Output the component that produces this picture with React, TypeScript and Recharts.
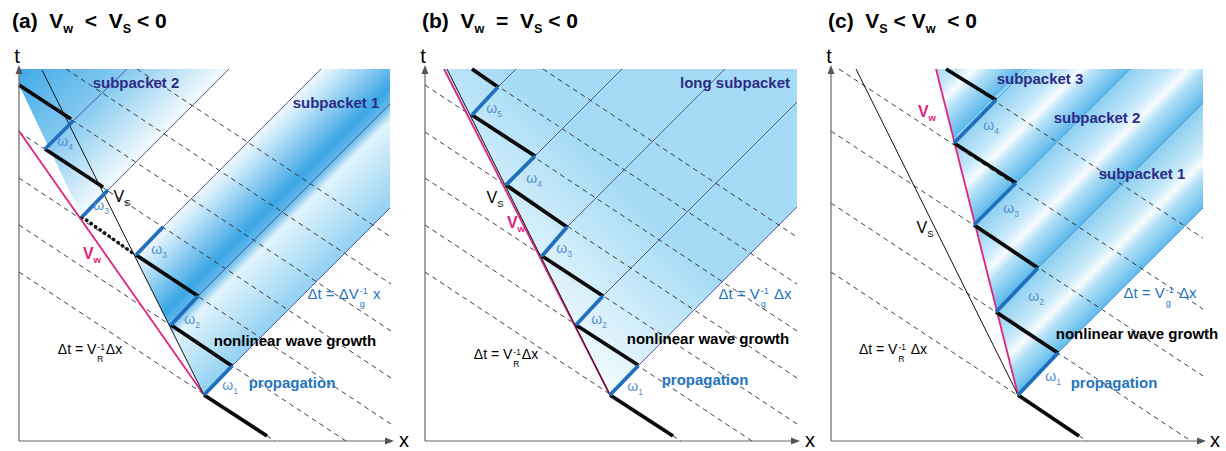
import React from "react"
import { ComposedChart, Line, Area, Scatter, XAxis, YAxis } from "recharts"

// every value is [x, t] measured from the axis corner of its panel
type Seg = [number, number, number, number]
type Pt = [number, number]

// (a) V_w < V_S < 0
const A_VS: Seg = [23, 371, 185, 46]
const A_VW: Seg = [0, 310, 185, 46]
const A_BLACK: Seg[] = [[0, 356, 52, 322], [26, 292, 84, 254], [117, 186, 179, 145], [152, 116, 213, 75], [185, 46, 248, 5]]
const A_DOTTED: Seg[] = [[63, 224, 115, 187]]
const A_OMEGA: Seg[] = [[185, 46, 213, 75], [152, 116, 179, 145], [117, 186, 144, 214], [63, 224, 89, 251], [26, 292, 54, 320]]
const A_VG: Seg[] = [[54, 320, 108, 372], [89, 251, 210, 372], [144, 214, 302, 372], [179, 145, 371, 337], [213, 75, 371, 233]]
const A_DASHED: Seg[] = [[118, 372, 372, 204], [47, 372, 372, 157], [0, 356, 372, 110], [0, 309, 372, 63], [0, 263, 372, 17], [0, 216, 327, 0], [0, 169, 256, 0]]
const A_PACKET_1: Pt[] = [[115, 186], [144, 214], [302, 372], [371, 372], [371, 233], [213, 75], [185, 46], [115, 186]]
const A_PACKET_2: Pt[] = [[0, 372], [210, 372], [89, 251], [63, 224], [0, 356], [0, 372]]

// (b) V_w = V_S < 0
const B_VS: Seg = [22, 372, 185, 46]
const B_VW: Seg = [19, 372, 185, 46]
const B_BLACK: Seg[] = [[47, 372, 73, 354], [47, 326, 110, 285], [81, 256, 142, 214], [117, 185, 178, 145], [151, 116, 213, 76], [185, 46, 248, 5]]
const B_OMEGA: Seg[] = [[47, 326, 73, 354], [81, 256, 110, 285], [117, 185, 142, 214], [151, 116, 178, 145], [185, 46, 213, 75]]
const B_VG: Seg[] = [[73, 354, 91, 372], [110, 285, 197, 372], [142, 214, 300, 372], [178, 145, 372, 339], [213, 75, 372, 234]]
const B_DASHED: Seg[] = A_DASHED
const B_PACKET: Pt[] = [[19, 372], [372, 372], [372, 234], [213, 75], [185, 46], [19, 372]]

// (c) V_S < V_w < 0
const C_VS: Seg = [25, 372, 187, 46]
const C_VW: Seg = [105, 372, 187, 46]
const C_BLACK: Seg[] = [[115, 372, 165, 341], [123, 298, 185, 258], [143, 216, 207, 173], [165, 129, 227, 88], [187, 46, 248, 5]]
const C_OMEGA: Seg[] = [[123, 298, 165, 341], [143, 216, 185, 258], [165, 129, 207, 173], [187, 46, 227, 88]]
const C_VG: Seg[] = [[165, 341, 196, 372], [185, 258, 299, 372], [207, 173, 372, 338], [227, 88, 372, 233]]
const C_DASHED: Seg[] = [[115, 372, 372, 203], [8, 372, 372, 132], [0, 310, 372, 65], [0, 238, 360, 0], [0, 169, 256, 0]]
const C_PACKET: Pt[] = [[105, 372], [372, 372], [372, 233], [227, 88], [187, 46], [105, 372]]

const AXIS_X: Seg = [0, 0, 373, 0]
const AXIS_T: Seg = [0, 0, 0, 374]
const ARROW_X: Pt[] = [[375, 0]]
const ARROW_T: Pt[] = [[0, 376]]

const FONT = '"Liberation Sans", Arial, Helvetica, sans-serif'
const NAVY = "#2c2b86"
const BLUE = "#2673c0"
const OMEGA_C = "#4f8fd0"
const MAGENTA = "#e2237f"

const seg = (s: Seg) => [{ x: s[0], t: s[1] }, { x: s[2], t: s[3] }]
const poly = (p: Pt[]) => p.map(([x, t]) => ({ x, t }))

interface PanelProps {
    left: number
    vs: Seg
    vw: Seg
    black: Seg[]
    dotted?: Seg[]
    omega: Seg[]
    vg: Seg[]
    vgColor: string
    dashed: Seg[]
    packets: { pts: Pt[]; fill: string }[]
    defs: React.ReactNode
}

function Panel({ left, vs, vw, black, dotted = [], omega, vg, vgColor, dashed, packets, defs }: PanelProps) {
    const line = (s: Seg, key: string, stroke: string, width: number, extra: any = {}) => (
        <Line key={key} data={seg(s)} dataKey="t" type="linear" stroke={stroke} strokeWidth={width}
            dot={false} activeDot={false} isAnimationActive={false} {...extra} />
    )
    return (
        <div style={{ position: "absolute", left, top: 0 }}>
            <ComposedChart width={410} height={451} margin={{ top: 0, right: 0, bottom: 0, left: 0 }}>
                {defs}
                <XAxis type="number" dataKey="x" domain={[-19, 391]} hide allowDataOverflow />
                <YAxis type="number" dataKey="t" domain={[-10, 441]} hide allowDataOverflow />
                {packets.map((p, i) => (
                    <Area key={`p${i}`} data={poly(p.pts)} dataKey="t" type="linear" stroke="none"
                        fill={p.fill} fillOpacity={1} baseValue={p.pts[0][1]} dot={false} activeDot={false}
                        isAnimationActive={false} />
                ))}
                {dashed.map((s, i) => line(s, `d${i}`, "#2a2a2a", 0.9, { strokeDasharray: "5 4" }))}
                {vg.map((s, i) => line(s, `g${i}`, vgColor, 0.9))}
                {line(vw, "vw", MAGENTA, 1.8)}
                {line(vs, "vs", "#111", 1)}
                {dotted.map((s, i) => line(s, `o${i}`, "#111", 3.5, { strokeDasharray: "0.5 5", strokeLinecap: "round" }))}
                {black.map((s, i) => line(s, `b${i}`, "#0a0a0a", 3.8))}
                {omega.map((s, i) => line(s, `w${i}`, "#1f6fbe", 3.8))}
                {line(AXIS_X, "ax", "#666", 1.2)}
                {line(AXIS_T, "at", "#666", 1.2)}
                <Scatter data={poly(ARROW_X)} dataKey="t" isAnimationActive={false}
                    shape={(p: any) => <path d={`M${p.cx},${p.cy} l-9,-3.5 l0,7 z`} fill="#555" />} />
                <Scatter data={poly(ARROW_T)} dataKey="t" isAnimationActive={false}
                    shape={(p: any) => <path d={`M${p.cx},${p.cy} l-3.5,9 l7,0 z`} fill="#555" />} />
            </ComposedChart>
        </div>
    )
}

function Lbl({ x, y, color = "#000", size = 15, bold = false, children }: any) {
    return (
        <div style={{
            position: "absolute", left: x, top: y, transform: "translate(-50%,-50%)", color, fontSize: size,
            fontWeight: bold ? 700 : 400, whiteSpace: "nowrap", fontFamily: FONT, lineHeight: 1,
        }}>{children}</div>
    )
}

// superscript stacked over a subscript, as in V_g^-1
function Ss({ sup, sub }: { sup: string; sub: string }) {
    return (
        <span style={{ display: "inline-flex", flexDirection: "column", fontSize: "0.6em", lineHeight: 1.45, verticalAlign: "0.55em", margin: "0 1px" }}>
            <span>{sup}</span><span>{sub}</span>
        </span>
    )
}

const Om = ({ x, y, n }: { x: number; y: number; n: number }) => (
    <Lbl x={x} y={y} color={OMEGA_C} size={14}>ω<sub style={{ fontSize: "0.6em" }}>{n}</sub></Lbl>
)

function Title({ x, children }: any) {
    return (
        <div style={{ position: "absolute", left: x, top: 8, fontSize: 21, fontWeight: 700, fontFamily: FONT, whiteSpace: "nowrap", lineHeight: "25px" }}>
            {children}
        </div>
    )
}

const sb = { fontSize: "0.6em" }

export default function App() {
    return (
        <div style={{ position: "absolute", left: 0, top: 0, width: 1226, height: 451, background: "#fff", overflow: "hidden", fontFamily: FONT }}>
            <Panel left={0} vs={A_VS} vw={A_VW} black={A_BLACK} dotted={A_DOTTED} omega={A_OMEGA} vg={A_VG}
                vgColor="#46469c" dashed={A_DASHED}
                packets={[{ pts: A_PACKET_2, fill: "url(#ga2)" }, { pts: A_PACKET_1, fill: "url(#ga1)" }]}
                defs={
                    <defs>
                        <linearGradient id="ga1" gradientUnits="userSpaceOnUse" x1={163} y1={227} x2={267} y2={331}>
                            <stop offset="0" stopColor="#f2faff" />
                            <stop offset="0.15" stopColor="#b3def7" />
                            <stop offset="0.42" stopColor="#3aa6e5" />
                            <stop offset="0.5" stopColor="#62b9ea" />
                            <stop offset="0.58" stopColor="#e2f4fc" />
                            <stop offset="1" stopColor="#92d1f3" />
                        </linearGradient>
                        <linearGradient id="ga2" gradientUnits="userSpaceOnUse" x1={19} y1={69} x2={129} y2={179}>
                            <stop offset="0" stopColor="#40aae6" />
                            <stop offset="0.48" stopColor="#84c9f0" />
                            <stop offset="1" stopColor="#ffffff" />
                        </linearGradient>
                    </defs>
                } />
            <Panel left={406} vs={B_VS} vw={B_VW} black={B_BLACK} omega={B_OMEGA} vg={B_VG}
                vgColor="#46469c" dashed={B_DASHED}
                packets={[{ pts: B_PACKET, fill: "url(#gb1)" }]}
                defs={
                    <defs>
                        <linearGradient id="gb1" gradientUnits="userSpaceOnUse" x1={204} y1={395} x2={314} y2={285}>
                            <stop offset="0" stopColor="#f3fbfe" />
                            <stop offset="1" stopColor="#a6dbf5" />
                        </linearGradient>
                    </defs>
                } />
            <Panel left={812} vs={C_VS} vw={C_VW} black={C_BLACK} omega={C_OMEGA} vg={C_VG}
                vgColor="#4a9ad8" dashed={C_DASHED}
                packets={[{ pts: C_PACKET, fill: "url(#gc1)" }]}
                defs={
                    <defs>
                        <linearGradient id="gc1" gradientUnits="userSpaceOnUse" x1={204} y1={183} x2={257.5} y2={236.5} spreadMethod="repeat">
                            <stop offset="0" stopColor="#8ccff1" />
                            <stop offset="0.4" stopColor="#c8e9fa" />
                            <stop offset="0.55" stopColor="#f7fcff" />
                            <stop offset="0.68" stopColor="#b5e1f8" />
                            <stop offset="1" stopColor="#5cb8ea" />
                        </linearGradient>
                    </defs>
                } />

            <Title x={12}>(a)&nbsp; V<sub style={sb}>w</sub>&nbsp; &lt;&nbsp; V<sub style={sb}>S</sub>&nbsp;&lt; 0</Title>
            <Title x={422}>(b)&nbsp; V<sub style={sb}>w</sub>&nbsp; =&nbsp; V<sub style={sb}>S</sub>&nbsp;&lt; 0</Title>
            <Title x={828}>(c)&nbsp; V<sub style={sb}>S</sub>&nbsp;&lt; V<sub style={sb}>w</sub>&nbsp; &lt; 0</Title>

            {[17, 423, 829].map((x) => <Lbl key={`t${x}`} x={x} y={56} size={20}>t</Lbl>)}
            {[404, 810, 1215].map((x) => <Lbl key={`x${x}`} x={x} y={440} size={20}>x</Lbl>)}

            {/* (a) */}
            <Lbl x={136} y={82} color={NAVY} bold>subpacket 2</Lbl>
            <Lbl x={336} y={102} color={NAVY} bold>subpacket 1</Lbl>
            <Om x={65} y={143} n={4} />
            <Om x={101} y={207} n={3} />
            <Om x={159} y={251} n={3} />
            <Om x={192} y={321} n={2} />
            <Om x={230} y={387} n={1} />
            <Lbl x={122} y={198} size={16}>V<sub style={sb}>S</sub></Lbl>
            <Lbl x={92} y={255} size={16} color={MAGENTA} bold>V<sub style={sb}>w</sub></Lbl>
            <Lbl x={292} y={382} color={BLUE} bold>propagation</Lbl>
            <Lbl x={295} y={340} bold>nonlinear wave growth</Lbl>
            <Lbl x={344} y={298} color={BLUE}>Δt = ΔV<Ss sup="-1" sub="g" /> x</Lbl>
            <Lbl x={90} y={353} size={14}>Δt = V<Ss sup="-1" sub="R" />Δx</Lbl>

            {/* (b) */}
            <Lbl x={735} y={82} color={NAVY} bold>long subpacket</Lbl>
            <Om x={494} y={110} n={5} />
            <Om x={534} y={180} n={4} />
            <Om x={564} y={250} n={3} />
            <Om x={599} y={321} n={2} />
            <Om x={635} y={388} n={1} />
            <Lbl x={495} y={199} size={16}>V<sub style={sb}>S</sub></Lbl>
            <Lbl x={516} y={224} size={16} color={MAGENTA} bold>V<sub style={sb}>w</sub></Lbl>
            <Lbl x={705} y={379} color={BLUE} bold>propagation</Lbl>
            <Lbl x={708} y={338} bold>nonlinear wave growth</Lbl>
            <Lbl x={755} y={298} color={BLUE}>Δt = V<Ss sup="-1" sub="g" /> Δx</Lbl>
            <Lbl x={506} y={358} size={14}>Δt = V<Ss sup="-1" sub="R" />Δx</Lbl>

            {/* (c) */}
            <Lbl x={1040} y={78} color={NAVY} bold>subpacket 3</Lbl>
            <Lbl x={1097} y={117} color={NAVY} bold>subpacket 2</Lbl>
            <Lbl x={1142} y={173} color={NAVY} bold>subpacket 1</Lbl>
            <Om x={991} y={127} n={4} />
            <Om x={1011} y={210} n={3} />
            <Om x={1036} y={298} n={2} />
            <Om x={1053} y={378} n={1} />
            <Lbl x={925} y={229} size={16}>V<sub style={sb}>S</sub></Lbl>
            <Lbl x={927} y={113} size={16} color={MAGENTA} bold>V<sub style={sb}>w</sub></Lbl>
            <Lbl x={1114} y={382} color={BLUE} bold>propagation</Lbl>
            <Lbl x={1137} y={333} bold>nonlinear wave growth</Lbl>
            <Lbl x={1160} y={297} color={BLUE}>Δt = V<Ss sup="-1" sub="g" /> Δx</Lbl>
            <Lbl x={893} y={353} size={14}>Δt = V<Ss sup="-1" sub="R" /> Δx</Lbl>
        </div>
    )
}
